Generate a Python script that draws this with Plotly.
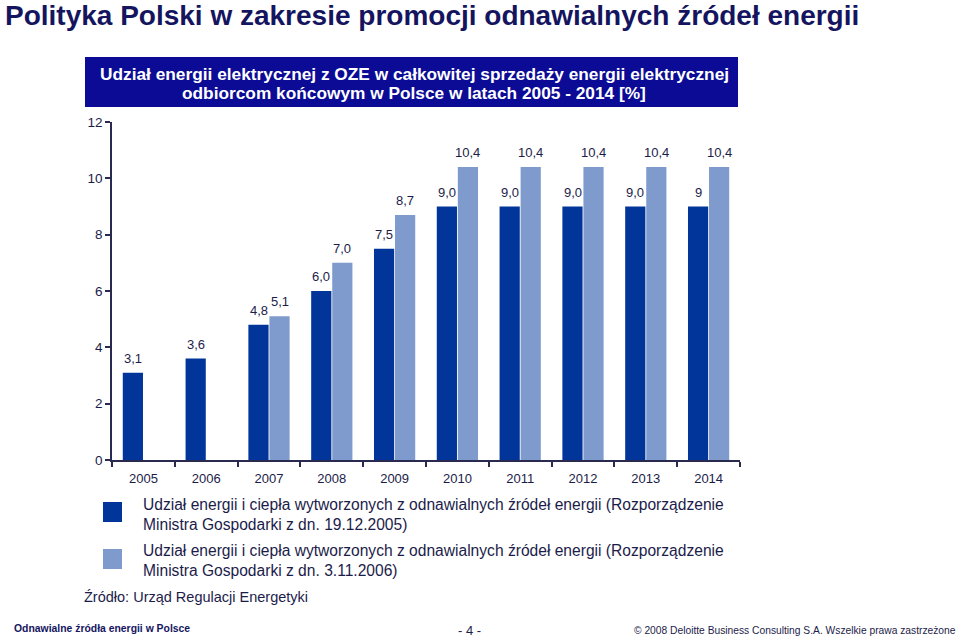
import plotly.graph_objects as go

years = ["2005", "2006", "2007", "2008", "2009", "2010", "2011", "2012", "2013", "2014"]
dark_values = [3.1, 3.6, 4.8, 6.0, 7.5, 9.0, 9.0, 9.0, 9.0, 9.0]
dark_labels = ["3,1", "3,6", "4,8", "6,0", "7,5", "9,0", "9,0", "9,0", "9,0", "9"]
light_values = [None, None, 5.1, 7.0, 8.7, 10.4, 10.4, 10.4, 10.4, 10.4]
light_labels = ["", "", "5,1", "7,0", "8,7", "10,4", "10,4", "10,4", "10,4", "10,4"]
y_ticks = [0, 2, 4, 6, 8, 10, 12]

title_text = "Polityka Polski w zakresie promocji odnawialnych źródeł energii"
subtitle_line1 = "Udział energii elektrycznej z OZE w całkowitej sprzedaży energii elektrycznej"
subtitle_line2 = "odbiorcom końcowym w Polsce w latach 2005 - 2014 [%]"
legend_dark = ("Udział energii i ciepła wytworzonych z odnawialnych źródeł energii (Rozporządzenie<br>"
               "Ministra Gospodarki z dn. 19.12.2005)")
legend_light = ("Udział energii i ciepła wytworzonych z odnawialnych źródeł energii (Rozporządzenie<br>"
                "Ministra Gospodarki z dn. 3.11.2006)")
source_text = "Źródło: Urząd Regulacji Energetyki"
footer_left = "Odnawialne źródła energii w Polsce"
footer_mid = "- 4 -"
footer_right = "© 2008 Deloitte Business Consulting S.A. Wszelkie prawa zastrzeżone"

DARK = "#02359a"
LIGHT = "#7f9bcd"
NAVY_TEXT = "#1c1c4a"
TITLE_NAVY = "#15155f"
FONT = "Liberation Sans, Arial, sans-serif"

W, H = 960, 639
L, R, T, B = 112, 740, 122, 460


def px(x):
    return (x - L) / (R - L)


def py(y):
    return (B - y) / (B - T)


fig = go.Figure()
fig.add_trace(go.Bar(x=years, y=dark_values, marker_color=DARK, marker_line_width=0, name="2005"))
fig.add_trace(go.Bar(x=years, y=light_values, marker_color=LIGHT, marker_line_width=0, name="2006"))

shapes = [
    dict(type="rect", xref="paper", yref="paper", x0=px(85), x1=px(738), y0=py(107), y1=py(57),
         fillcolor="#0b0b95", line_width=0, layer="below"),
    dict(type="rect", xref="paper", yref="paper", x0=px(103), x1=px(122), y0=py(522), y1=py(502),
         fillcolor=DARK, line_width=0),
    dict(type="rect", xref="paper", yref="paper", x0=px(103), x1=px(122), y0=py(569), y1=py(549),
         fillcolor=LIGHT, line_width=0),
]

annotations = [
    dict(text="<b>" + title_text + "</b>", x=px(3), y=py(15), xanchor="left", yanchor="middle",
         font=dict(size=28, color=TITLE_NAVY, family=FONT)),
    dict(text="<b>" + subtitle_line1 + "</b>", x=px(414), y=py(74), xanchor="center", yanchor="middle",
         font=dict(size=17.3, color="white", family=FONT)),
    dict(text="<b>" + subtitle_line2 + "</b>", x=px(414), y=py(93), xanchor="center", yanchor="middle",
         font=dict(size=17.3, color="white", family=FONT)),
    dict(text=legend_dark, x=px(141), y=py(514), xanchor="left", yanchor="middle", align="left",
         font=dict(size=15.6, color=NAVY_TEXT, family=FONT)),
    dict(text=legend_light, x=px(141), y=py(560), xanchor="left", yanchor="middle", align="left",
         font=dict(size=15.6, color=NAVY_TEXT, family=FONT)),
    dict(text=source_text, x=px(82), y=py(597), xanchor="left", yanchor="middle",
         font=dict(size=14.5, color=NAVY_TEXT, family=FONT)),
    dict(text="<b>" + footer_left + "</b>", x=px(12), y=py(628), xanchor="left", yanchor="middle",
         font=dict(size=10.4, color=TITLE_NAVY, family=FONT)),
    dict(text=footer_mid, x=px(469), y=py(630), xanchor="center", yanchor="middle",
         font=dict(size=13, color=NAVY_TEXT, family=FONT)),
    dict(text=footer_right, x=px(958), y=py(630), xanchor="right", yanchor="middle",
         font=dict(size=10.25, color=NAVY_TEXT, family=FONT)),
]
for a in annotations:
    a.update(xref="paper", yref="paper", showarrow=False)

# value labels above each bar (category index on the x axis, shifted half a bar slot left/right)
for i, (v, lab) in enumerate(zip(dark_values, dark_labels)):
    annotations.append(dict(x=i, y=v, text=lab, xref="x", yref="y", showarrow=False, xshift=-10.5,
                            yshift=5, yanchor="bottom", font=dict(size=13, color=NAVY_TEXT, family=FONT)))
for i, (v, lab) in enumerate(zip(light_values, light_labels)):
    if v is None:
        continue
    annotations.append(dict(x=i, y=v, text=lab, xref="x", yref="y", showarrow=False, xshift=10.5,
                            yshift=5, yanchor="bottom", font=dict(size=13, color=NAVY_TEXT, family=FONT)))

fig.update_layout(
    width=W, height=H,
    margin=dict(l=L, r=W - R, t=T, b=H - B, pad=0),
    paper_bgcolor="white", plot_bgcolor="white",
    barmode="group", bargap=0.33, bargroupgap=0.04,
    showlegend=False,
    shapes=shapes, annotations=annotations,
    font=dict(family=FONT, color=NAVY_TEXT),
    xaxis=dict(type="category", range=[-0.5, 9.5], showline=True, linecolor="#2a2a50", linewidth=1.5,
               ticks="outside", tickson="boundaries", ticklen=5, tickcolor="#2a2a50", tickwidth=1.5,
               ticklabelstandoff=6,
               tickfont=dict(size=13, color=NAVY_TEXT), showgrid=False, zeroline=False, fixedrange=True),
    yaxis=dict(range=[0, 12], tickvals=y_ticks, showline=True, linecolor="#2a2a50", linewidth=1.5,
               ticks="outside", ticklen=5, tickcolor="#2a2a50", tickwidth=1.5,
               tickfont=dict(size=13.5, color=NAVY_TEXT), showgrid=False, zeroline=False, fixedrange=True),
)

fig.write_html("out.html", config={"displayModeBar": False},
               post_script="document.body.style.margin='0';")
